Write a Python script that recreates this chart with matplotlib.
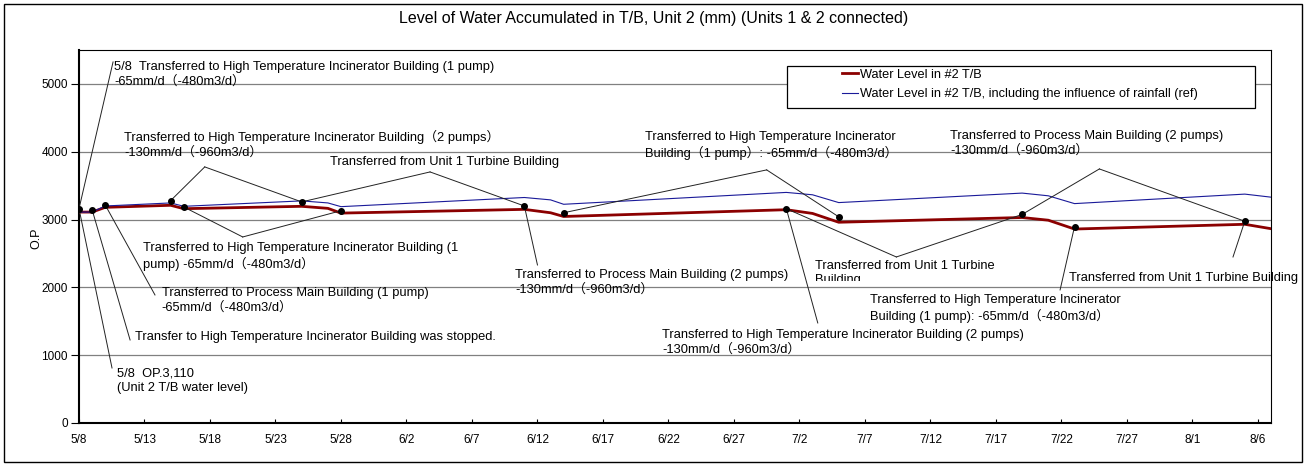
import matplotlib
matplotlib.use('Agg')
import matplotlib.pyplot as plt
from matplotlib.patches import Rectangle
from matplotlib.transforms import Bbox, TransformedBbox
import pandas as pd

plt.rcParams['font.family'] = ['Liberation Sans', 'Noto Sans CJK JP']

START = pd.Timestamp('2011-05-08')


def day(s):
    return (pd.Timestamp('2011/' + s) - START).days


# water level in #2 T/B (mm, O.P)
dates = ['5/8', '5/9', '5/10', '5/15', '5/16', '5/25', '5/27', '5/28',
         '6/11', '6/13', '6/14', '7/1', '7/3', '7/5', '7/19', '7/21',
         '7/23', '8/5', '8/7']
level = [3110, 3110, 3180, 3210, 3160, 3195, 3165, 3095,
         3150, 3100, 3045, 3145, 3090, 2960, 3030, 2990,
         2860, 2930, 2865]
level_rain = [3110, 3110, 3200, 3245, 3195, 3275, 3245, 3190,
              3325, 3290, 3225, 3400, 3365, 3250, 3390, 3350,
              3235, 3375, 3330]

# black dots where the callouts point
event_dates = ['5/8', '5/9', '5/10', '5/15', '5/16', '5/25', '5/28',
               '6/11', '6/14', '7/1', '7/5', '7/19', '7/23', '8/5']
event_values = [3160, 3145, 3215, 3280, 3185, 3260, 3130,
                3200, 3100, 3160, 3040, 3075, 2895, 2975]

tick_days = list(range(0, 91, 5))
tick_labels = [f'{d.month}/{d.day}' for d in
               (START + pd.Timedelta(days=t) for t in tick_days)]

x = [day(s) for s in dates]
ex = [day(s) for s in event_dates]
ey = event_values

fig = plt.figure(figsize=(13.08, 4.66), dpi=100)
ax = fig.add_axes([0.0604, 0.0923, 0.9113, 0.8004])

ax.plot(x, level, color='#8B0000', lw=2.0, zorder=3, label='Water Level in #2 T/B')
ax.plot(x, level_rain, color='#1a1a99', lw=0.8, zorder=3,
        label='Water Level in #2 T/B, including the influence of rainfall (ref)')
ax.plot(ex, ey, 'o', color='black', ms=4, zorder=6)

FS = 9.3
LS = 1.25

# callout texts: (day, top value, text)
notes = [
    (2.67, 5339, "5/8  Transferred to High Temperature Incinerator Building (1 pump)\n-65mm/d（-480m3/d）"),
    (3.44, 4322, "Transferred to High Temperature Incinerator Building（2 pumps）\n-130mm/d（-960m3/d）"),
    (19.2, 3938, "Transferred from Unit 1 Turbine Building"),
    (4.9, 2670, "Transferred to High Temperature Incinerator Building (1\npump) -65mm/d（-480m3/d）"),
    (6.3, 2006, "Transferred to Process Main Building (1 pump)\n-65mm/d（-480m3/d）"),
    (4.3, 1357, "Transfer to High Temperature Incinerator Building was stopped."),
    (2.9, 811, "5/8  OP.3,110\n(Unit 2 T/B water level)"),
    (33.3, 2271, "Transferred to Process Main Building (2 pumps)\n-130mm/d（-960m3/d）"),
    (43.2, 4307, "Transferred to High Temperature Incinerator\nBuilding（1 pump）: -65mm/d（-480m3/d）"),
    (44.5, 1386, "Transferred to High Temperature Incinerator Building (2 pumps)\n-130mm/d（-960m3/d）"),
    (66.5, 4322, "Transferred to Process Main Building (2 pumps)\n-130mm/d（-960m3/d）"),
    (60.4, 1903, "Transferred to High Temperature Incinerator\nBuilding (1 pump): -65mm/d（-480m3/d）"),
    (75.6, 2227, "Transferred from Unit 1 Turbine Building"),
]
for tx, ty, s in notes:
    ax.text(tx, ty, s, fontsize=FS, va='top', ha='left', linespacing=LS, zorder=4)

# text box cut off at its bottom in the original
t = ax.text(56.2, 2404, "Transferred from Unit 1 Turbine\nBuilding", fontsize=FS,
            va='top', ha='left', linespacing=LS, zorder=4)
t.set_clip_box(TransformedBbox(Bbox([[50, 2100], [75, 5500]]), ax.transData))
t.set_clip_on(True)

# leader lines: (end point, indices of dots it connects to)
leaders = [
    ((2.6, 5324), [0]),
    ((2.52, 811), [0]),
    ((3.9, 1224), [1]),
    ((5.8, 1888), [2]),
    ((12.5, 2743), [4, 6]),
    ((9.6, 3776), [3, 5]),
    ((26.8, 3702), [5, 7]),
    ((35.0, 2330), [7]),
    ((52.5, 3732), [8, 10]),
    ((62.4, 2448), [9, 11]),
    ((56.4, 1475), [9]),
    ((77.9, 3746), [11, 13]),
    ((74.9, 1962), [12]),
    ((88.1, 2448), [13]),
]
for (kx, ky), idx in leaders:
    for i in idx:
        ax.plot([kx, ex[i]], [ky, ey[i]], color='#222222', lw=0.7, zorder=4)

ax.set_xlim(0, 91)
ax.set_ylim(0, 5500)
ax.set_xticks(tick_days)
ax.set_xticklabels(tick_labels)
ax.set_yticks([0, 1000, 2000, 3000, 4000, 5000])
ax.tick_params(axis='x', direction='in', length=3, pad=8, labelsize=8.5)
ax.tick_params(axis='y', direction='out', length=6, pad=2, labelsize=8.5)
ax.yaxis.grid(True, color='#808080', lw=0.9)
ax.set_axisbelow(True)
for side in ['left', 'bottom']:
    ax.spines[side].set_linewidth(1.5)
for side in ['top', 'right']:
    ax.spines[side].set_linewidth(0.8)

ax.set_ylabel('O.P', fontsize=9)
ax.yaxis.set_label_coords(-0.031, 0.496)

ax.add_patch(Rectangle((0.594, 0.8445), 0.3926, 0.1125, transform=ax.transAxes,
                       facecolor='white', edgecolor='black', lw=0.9, zorder=5))
leg = ax.legend(loc='upper left', bbox_to_anchor=(0.640, 0.950), frameon=False,
                fontsize=9.2, handlelength=1.3, handletextpad=0.15,
                labelspacing=0.6, borderpad=0, borderaxespad=0)
leg.set_zorder(6)

fig.text(0.5, 1 - 18 / 466, 'Level of Water Accumulated in T/B, Unit 2 (mm) (Units 1 & 2 connected)',
         ha='center', va='center', fontsize=11.5)
fig.add_artist(Rectangle((4 / 1308, 4 / 466), 1298 / 1308, 458 / 466, transform=fig.transFigure,
                         fill=False, edgecolor='black', lw=1))

fig.savefig('out.png', dpi=100)
